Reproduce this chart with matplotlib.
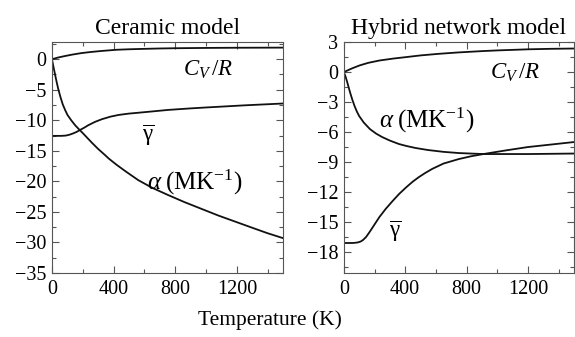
import matplotlib
matplotlib.use("Agg")
import matplotlib.pyplot as plt
from matplotlib.ticker import MultipleLocator

plt.rcParams["font.family"] = "serif"
plt.rcParams["font.serif"] = ["Liberation Serif", "DejaVu Serif"]
plt.rcParams["mathtext.fontset"] = "custom"
plt.rcParams["mathtext.rm"] = "Liberation Serif"
plt.rcParams["mathtext.it"] = "Liberation Serif:italic"

# Ceramic model (left panel)
cer_cv_T = [0, 40, 80, 130, 190, 250, 320, 420, 500, 600, 700, 800, 1000, 1200, 1500]
cer_cv = [0, 0.28, 0.5, 0.75, 1.0, 1.18, 1.35, 1.55, 1.63, 1.7, 1.76, 1.8, 1.85,
          1.88, 1.9]
cer_alpha_T = [0, 10, 20, 30, 40, 55, 70, 85, 100, 125, 150, 180, 200, 230, 260, 300,
               340, 370, 420, 480, 560, 650, 750, 860, 970, 1080, 1190, 1300, 1400, 1500]
cer_alpha = [0, -1.3, -2.5, -3.7, -4.8, -6.2, -7.4, -8.3, -9.1, -10.0, -10.8, -11.6,
             -12.1, -12.9, -13.7, -14.7, -15.6, -16.3, -17.3, -18.4, -19.8, -21.05,
             -22.2, -23.4, -24.5, -25.6, -26.6, -27.6, -28.5, -29.3]
cer_gamma_T = [0, 60, 90, 115, 137, 160, 181, 210, 236, 280, 324, 380, 433, 500, 553,
               650, 754, 900, 1000, 1250, 1500]
cer_gamma = [-12.55, -12.55, -12.5, -12.35, -12.15, -11.9, -11.6, -11.2, -10.8, -10.25,
             -9.82, -9.4, -9.12, -8.9, -8.78, -8.55, -8.3, -8.05, -7.9, -7.55, -7.25]

# Hybrid network model (right panel)
hyb_cv_T = [0, 50, 103, 160, 232, 320, 405, 500, 619, 748, 900, 1000, 1200, 1350, 1500]
hyb_cv = [0, 0.35, 0.67, 0.93, 1.16, 1.35, 1.5, 1.67, 1.83, 1.97, 2.1, 2.17, 2.28,
          2.33, 2.36]
hyb_alpha_T = [0, 10, 20, 30, 40, 55, 70, 85, 100, 130, 170, 210, 250, 300, 360, 410,
               470, 550, 650, 750, 910, 1200, 1500]
hyb_alpha = [0, -0.4, -0.9, -1.45, -2.0, -2.75, -3.4, -3.95, -4.4, -5.05, -5.7, -6.15,
             -6.5, -6.85, -7.2, -7.4, -7.6, -7.8, -7.98, -8.1, -8.2, -8.2, -8.15]
hyb_gamma_T = [0, 60, 90, 110, 125, 145, 168, 200, 232, 275, 318, 360, 405, 450, 490,
               530, 577, 650, 750, 830, 910, 1050, 1200, 1350, 1500]
hyb_gamma = [-17.1, -17.1, -17.05, -16.95, -16.8, -16.5, -16.0, -15.25, -14.5, -13.65,
             -12.9, -12.2, -11.55, -10.95, -10.5, -10.1, -9.68, -9.15, -8.7, -8.42,
             -8.2, -7.85, -7.5, -7.25, -7.0]

fig = plt.figure(figsize=(5.75, 3.37), dpi=100)
ax1 = fig.add_axes([0.0904, 0.19, 0.402, 0.685])
ax2 = fig.add_axes([0.598, 0.19, 0.400, 0.685])

lw = 1.3
col = "#111111"

ax1.plot(cer_cv_T, cer_cv, color=col, lw=lw)
ax1.plot(cer_alpha_T, cer_alpha, color=col, lw=lw)
ax1.plot(cer_gamma_T, cer_gamma, color=col, lw=lw)

ax2.plot(hyb_cv_T, hyb_cv, color=col, lw=lw)
ax2.plot(hyb_alpha_T, hyb_alpha, color=col, lw=lw)
ax2.plot(hyb_gamma_T, hyb_gamma, color=col, lw=lw)

ax1.set_xlim(0, 1500)
ax1.set_ylim(-35, 2.8)
ax1.yaxis.set_major_locator(MultipleLocator(5))
ax1.yaxis.set_minor_locator(MultipleLocator(2.5))

ax2.set_xlim(0, 1500)
ax2.set_ylim(-20.1, 3)
ax2.yaxis.set_major_locator(MultipleLocator(3))
ax2.yaxis.set_minor_locator(MultipleLocator(1.5))

for ax in (ax1, ax2):
    ax.xaxis.set_major_locator(MultipleLocator(400))
    ax.xaxis.set_minor_locator(MultipleLocator(200))
    ax.tick_params(which="both", direction="in", top=True, right=True,
                   width=0.8, color="#555555", labelsize=14.5)
    ax.tick_params(which="major", length=5)
    ax.tick_params(which="minor", length=3)
    ax.tick_params(axis="x", pad=5)
    ax.tick_params(axis="y", pad=4)
    for s in ax.spines.values():
        s.set_color("#555555")
        s.set_linewidth(0.8)

ax1.set_title("Ceramic model", fontsize=17, pad=6)
ax2.set_title("Hybrid network model", fontsize=17, pad=6)

ax1.text(850, -1.8, r"$C_V\,/R$", fontsize=16.5, va="center", ha="left")
ax1.text(623, -12.4, r"$\overline{\mathrm{\gamma}}$", fontsize=16.5, va="center", ha="center")
ax1.text(615, -20.1, r"$\alpha\;(\mathrm{MK}^{-1})$", fontsize=18, va="center", ha="left")

ax2.text(955, -0.1, r"$C_V\,/R$", fontsize=16.5, va="center", ha="left")
ax2.text(232, -4.8, r"$\alpha\;(\mathrm{MK}^{-1})$", fontsize=18, va="center", ha="left")
ax2.text(335, -15.9, r"$\overline{\mathrm{\gamma}}$", fontsize=16.5, va="center", ha="center")

fig.text(0.47, 0.05, "Temperature (K)", fontsize=15.5, ha="center", va="center")

fig.savefig("out.png", dpi=100)
